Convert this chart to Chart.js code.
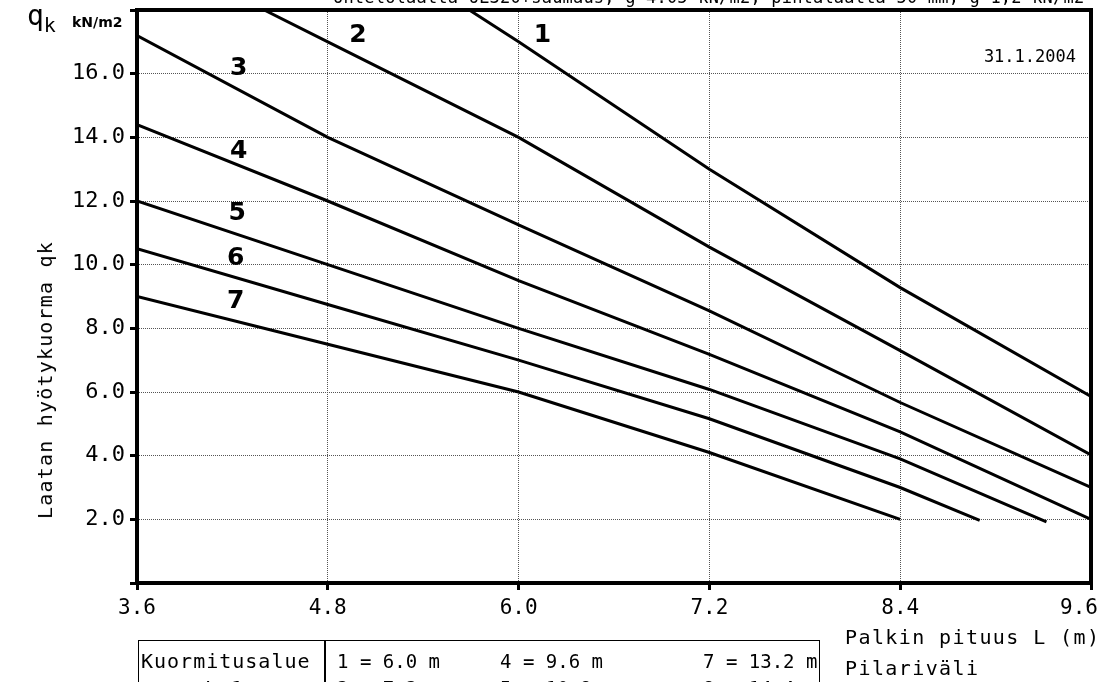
<!DOCTYPE html>
<html>
<head>
<meta charset="utf-8">
<script src="https://cdn.jsdelivr.net/npm/chart.js@4.4.1/dist/chart.umd.min.js"></script>
<style>
  body { margin: 0; background: #fff; }
  #wrap { position: relative; width: 1108px; height: 682px; overflow: hidden;
          font-family: 'DejaVu Sans Mono', monospace; color: #000; }
  #chart { position: absolute; left: 0; top: 0; }
  .t { position: absolute; white-space: pre; line-height: 1; }
  #title { left: 333px; top: -11px; font-size: 17px; letter-spacing: 0.2px; }
  #q { left: 27px; top: 2px; font-size: 28px; }
  #q sub { font-size: 20px; vertical-align: -7px; }
  #unit { left: 72px; top: 15px; font-family: 'DejaVu Sans', sans-serif; font-weight: bold; font-size: 14px; }
  #ytitle { left: 45px; top: 380px; font-size: 20px; letter-spacing: 1.2px;
            transform: translate(-50%, -50%) rotate(-90deg); }
  #xtitle { left: 845px; top: 627px; font-size: 20px; letter-spacing: 1.4px; }
  #xtitle2 { left: 845px; top: 658px; font-size: 20px; letter-spacing: 1.4px; }
  #box { position: absolute; left: 138px; top: 640px; width: 682px; height: 80px;
         border: 1.5px solid #000; box-sizing: border-box; }
  #div { position: absolute; left: 324px; top: 640px; width: 2px; height: 60px; background: #000; }
  .cell { font-size: 20px; letter-spacing: 1px; }
  .zone { font-size: 19px; letter-spacing: 0; }
</style>
</head>
<body>
<div id="wrap">
  <canvas id="chart" width="1108" height="682"></canvas>
  <div class="t" id="title">Ontelolaatta OL320+saumaus, g 4.05 kN/m2, pintalaatta 50 mm, g 1,2 kN/m2</div>
  <div class="t" id="q">q<sub>k</sub></div>
  <div class="t" id="unit">kN/m2</div>
  <div class="t" id="ytitle">Laatan hyötykuorma qk</div>
  <div class="t" id="xtitle">Palkin pituus L (m)</div>
  <div class="t" id="xtitle2">Pilariväli</div>
  <div id="box"></div>
  <div id="div"></div>
  <div id="cells"></div>
</div>
<script>
'use strict';

// span length L (m) and imposed load qk (kN/m2) per curve
const line1X = [5.69, 6.0, 7.2, 8.4, 9.6];
const line1Y = [18.0, 17.0, 13.0, 9.28, 5.86];
const line2X = [4.4, 4.8, 6.0, 7.2, 8.4, 9.6];
const line2Y = [18.0, 17.0, 14.0, 10.55, 7.3, 4.02];
const line3X = [3.6, 4.8, 6.0, 7.2, 8.4, 9.6];
const line3Y = [17.2, 14.0, 11.25, 8.55, 5.67, 3.0];
const line4X = [3.6, 4.8, 6.0, 7.2, 8.4, 9.6];
const line4Y = [14.4, 12.0, 9.5, 7.18, 4.75, 2.0];
const line5X = [3.6, 4.8, 6.0, 7.2, 8.4, 9.32];
const line5Y = [12.0, 10.0, 8.0, 6.08, 3.9, 1.92];
const line6X = [3.6, 4.8, 6.0, 7.2, 8.4, 8.9];
const line6Y = [10.5, 8.75, 7.0, 5.16, 3.0, 1.97];
const line7X = [3.6, 4.8, 6.0, 7.2, 8.4];
const line7Y = [9.0, 7.5, 6.0, 4.1, 2.0];

const curveNames = ['1', '2', '3', '4', '5', '6', '7'];
const nameX = [6.15, 4.99, 4.24, 4.24, 4.23, 4.22, 4.22];
const nameY = [17.21, 17.19, 16.15, 13.57, 11.6, 10.2, 8.84];

const xTicks = [3.6, 4.8, 6.0, 7.2, 8.4, 9.6];
const yTicks = [0, 2, 4, 6, 8, 10, 12, 14, 16, 18];

const zoneRow1 = ['1 = 6.0 m', '4 = 9.6 m', '7 = 13.2 m'];
const zoneRow2 = ['2 = 7.2 m', '5 = 10.8 m', '8 = 14.4 m'];

const FONT = "'DejaVu Sans Mono', monospace";

function pts(xs, ys) {
    return xs.map((x, i) => ({x: x, y: ys[i]}));
}

const curves = [
    pts(line1X, line1Y), pts(line2X, line2Y), pts(line3X, line3Y), pts(line4X, line4Y),
    pts(line5X, line5Y), pts(line6X, line6Y), pts(line7X, line7Y)
];

// table under the chart
(function () {
    const box = document.getElementById('cells');
    const cols = [337, 500, 703];
    const add = (txt, cls, left, top) => {
        const d = document.createElement('div');
        d.className = 't ' + cls;
        d.style.left = left + 'px';
        d.style.top = top + 'px';
        d.textContent = txt;
        box.appendChild(d);
    };
    add('Kuormitusalue', 'cell', 141, 651);
    add('L=1', 'cell', 205, 678);
    zoneRow1.forEach((s, i) => add(s, 'cell zone', cols[i], 652));
    zoneRow2.forEach((s, i) => add(s, 'cell zone', cols[i], 679));
})();

const frame = {
    id: 'frame',
    afterDatasetsDraw(chart) {
        const {ctx, chartArea: a, scales: {x, y}} = chart;
        ctx.save();
        ctx.strokeStyle = '#000';
        ctx.lineWidth = 4;
        ctx.strokeRect(a.left, a.top, a.right - a.left, a.bottom - a.top);

        ctx.fillStyle = '#000';
        ctx.font = "bold 25px 'DejaVu Sans', sans-serif";
        ctx.textAlign = 'center';
        ctx.textBaseline = 'middle';
        curveNames.forEach((n, i) => {
            ctx.fillText(n, x.getPixelForValue(nameX[i]), y.getPixelForValue(nameY[i]));
        });

        // x tick labels, last one kept inside the page
        ctx.font = '21px ' + FONT;
        ctx.textBaseline = 'top';
        xTicks.forEach((v, i) => {
            const px = x.getPixelForValue(v);
            const s = v.toFixed(1);
            if (i === xTicks.length - 1) {
                ctx.textAlign = 'right';
                ctx.fillText(s, 1098, a.bottom + 15);
            } else {
                ctx.textAlign = 'center';
                ctx.fillText(s, px, a.bottom + 15);
            }
        });

        ctx.font = '17px ' + FONT;
        ctx.textAlign = 'right';
        ctx.textBaseline = 'alphabetic';
        ctx.fillText('31.1.2004', 1076, 62);
        ctx.restore();
    }
};

new Chart(document.getElementById('chart'), {
    type: 'line',
    data: {
        datasets: curves.map((d, i) => ({
            label: curveNames[i],
            data: d,
            borderColor: '#000',
            borderWidth: 3,
            pointRadius: 0,
            tension: 0,
            fill: false
        }))
    },
    options: {
        responsive: false,
        animation: false,
        maintainAspectRatio: false,
        layout: {padding: {top: 10, right: 17, left: 0, bottom: 0}},
        plugins: {legend: {display: false}, tooltip: {enabled: false}},
        scales: {
            x: {
                type: 'linear',
                min: 3.6,
                max: 9.6,
                afterBuildTicks: s => { s.ticks = xTicks.map(v => ({value: v})); },
                afterFit: s => { s.height = 99; s.paddingLeft = 0; s.paddingRight = 0; },
                ticks: {display: false},
                border: {display: false, dash: [1, 1]},
                grid: {color: '#555', lineWidth: 1, tickLength: 7, tickWidth: 3,
                       tickColor: '#000', tickBorderDash: []}
            },
            y: {
                min: 0,
                max: 18,
                afterBuildTicks: s => { s.ticks = yTicks.map(v => ({value: v})); },
                afterFit: s => { s.width = 137; s.paddingTop = 0; s.paddingBottom = 0; },
                ticks: {
                    color: '#000',
                    padding: 5,
                    font: {family: FONT, size: 22},
                    callback: v => (v === 0 || v === 18) ? '' : v.toFixed(1)
                },
                border: {display: false, dash: [1, 1]},
                grid: {color: '#555', lineWidth: 1, tickLength: 7, tickWidth: 3,
                       tickColor: '#000', tickBorderDash: []}
            }
        }
    },
    plugins: [frame]
});
</script>
</body>
</html>
